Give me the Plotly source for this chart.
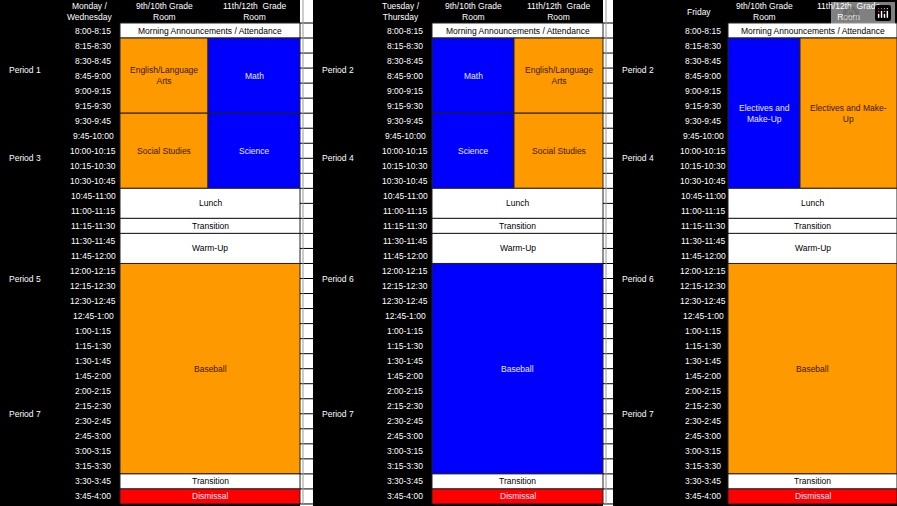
import plotly.graph_objects as go

times = ["8:00-8:15","8:15-8:30","8:30-8:45","8:45-9:00","9:00-9:15","9:15-9:30","9:30-9:45","9:45-10:00",
         "10:00-10:15","10:15-10:30","10:30-10:45","10:45-11:00","11:00-11:15","11:15-11:30","11:30-11:45","11:45-12:00",
         "12:00-12:15","12:15-12:30","12:30-12:45","12:45-1:00","1:00-1:15","1:15-1:30","1:30-1:45","1:45-2:00",
         "2:00-2:15","2:15-2:30","2:30-2:45","2:45-3:00","3:00-3:15","3:15-3:30","3:30-3:45","3:45-4:00"]

day_headers = ["Monday /<br>Wednesday", "Tuesday /<br>Thursday", "Friday"]
room_headers = ["9th/10th Grade<br>Room", "11th/12th  Grade<br>Room"]

O, B, W, R = "#ff9900", "#0000ff", "#ffffff", "#ff0000"
common_mid = [(11, 12, "both", "Lunch", W), (13, 13, "both", "Transition", W), (14, 15, "both", "Warm-Up", W)]
common_end = [(30, 30, "both", "Transition", W), (31, 31, "both", "Dismissal", R)]
top = [(0, 0, "both", "Morning Announcements / Attendance", W)]
schedules = [
    top + [(1, 5, 0, "English/Language<br>Arts", O), (1, 5, 1, "Math", B),
           (6, 10, 0, "Social Studies", O), (6, 10, 1, "Science", B)] + common_mid
        + [(16, 29, "both", "Baseball", O)] + common_end,
    top + [(1, 5, 0, "Math", B), (1, 5, 1, "English/Language<br>Arts", O),
           (6, 10, 0, "Science", B), (6, 10, 1, "Social Studies", O)] + common_mid
        + [(16, 29, "both", "Baseball", B)] + common_end,
    top + [(1, 10, 0, "Electives and<br>Make-Up", B), (1, 10, 1, "Electives and Make-<br>Up", O)] + common_mid
        + [(16, 29, "both", "Baseball", O)] + common_end,
]
period_labels = [["Period 1", "Period 3", "Period 5", "Period 7"],
                 ["Period 2", "Period 4", "Period 6", "Period 7"],
                 ["Period 2", "Period 4", "Period 6", "Period 7"]]
period_rows = [2.6, 8.5, 16.5, 25.5]

panels = [[0, 58, 120, 208, 300], [313, 370, 432, 514, 603], [613, 670, 728, 800, 897]]
strips = [(300, 313), (603, 613)]
HDR = 1.53
N = len(times)

fig = go.Figure()
shapes, ann = [], []
FONT = dict(family="Liberation Sans, Arial", size=8.5)

def text(x, y, t, color, **kw):
    ann.append(dict(x=x, y=y, text=t, showarrow=False, font=dict(FONT, color=color), xref="x", yref="y", **kw))

for p, xs in enumerate(panels):
    shapes.append(dict(type="rect", x0=xs[0], x1=xs[4], y0=-HDR, y1=N + 0.2, fillcolor="black", line_width=0, layer="below"))
    text((xs[1] + xs[2]) / 2, -HDR / 2, day_headers[p], "white")
    text((xs[2] + xs[3]) / 2, -HDR / 2, room_headers[0], "white")
    text((xs[3] + xs[4]) / 2, -HDR / 2, room_headers[1], "white")
    for i, t in enumerate(times):
        text((xs[1] + xs[2]) / 2 + 4, i + 0.5, t, "white")
    for lbl, r in zip(period_labels[p], period_rows):
        text(xs[0] + 7, r + 0.5, lbl, "white", xanchor="left")
    for s0, s1, col, lbl, c in schedules[p]:
        if col == "both":
            x0, x1 = xs[2], xs[4]
        else:
            x0, x1 = xs[2 + col], xs[3 + col]
        shapes.append(dict(type="rect", x0=x0, x1=x1, y0=s0, y1=s1 + 1, fillcolor=c,
                           line=dict(color="#222", width=1)))
        tc = "black" if c == W else ("#e8e8ff" if c in (B, R) else "#3a1800")
        text((x0 + x1) / 2, (s0 + s1 + 1) / 2, lbl, tc)

for a, b in strips:
    shapes.append(dict(type="rect", x0=a, x1=b, y0=-HDR, y1=N + 0.2, fillcolor="white", line_width=0, layer="below"))
    for i in range(N + 1):
        shapes.append(dict(type="line", x0=a, x1=b, y0=i, y1=i, line=dict(color="black", width=1)))
    shapes.append(dict(type="line", x0=a + 3, x1=a + 3, y0=-HDR, y1=N, line=dict(color="#999", width=1)))

fig.update_layout(width=897, height=506, margin=dict(l=0, r=0, t=0, b=0),
                  plot_bgcolor="white", paper_bgcolor="white", shapes=shapes, annotations=ann,
                  xaxis=dict(range=[0, 897], visible=False, fixedrange=True),
                  yaxis=dict(range=[(506 - 23) / 15.03, -HDR], visible=False, fixedrange=True),
                  showlegend=False)
fig.write_html("out.html")
with open("out.html", encoding="utf-8") as f:
    html = f.read()
html = html.replace("<head>", "<head><style>html,body{margin:0;padding:0;overflow:hidden}</style>", 1)
with open("out.html", "w", encoding="utf-8") as f:
    f.write(html)
